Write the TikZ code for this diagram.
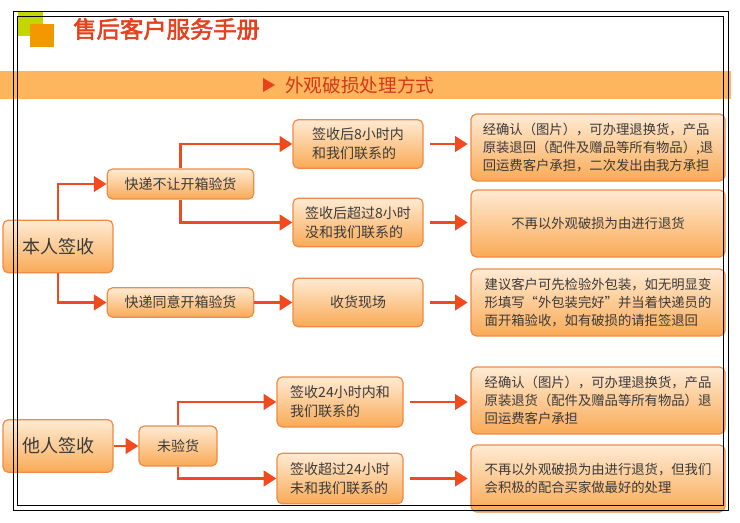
\documentclass[tikz,border=0pt]{standalone}
\usepackage{fontspec}
\setmainfont{Noto Sans CJK SC}
\newfontfamily\titlefont[FakeBold=2.5]{Noto Sans CJK SC}
\usetikzlibrary{arrows.meta, calc}

\definecolor{hdred}{HTML}{E8401C}
\definecolor{bandor}{HTML}{FDB55E}
\definecolor{arrred}{HTML}{F04A1E}
\definecolor{boxtop}{HTML}{FFEBD4}
\definecolor{boxbot}{HTML}{F9AA55}
\definecolor{boxline}{HTML}{F08A45}
\definecolor{txtgray}{HTML}{3A3A3A}
\definecolor{sqgreen}{HTML}{C3D600}
\definecolor{sqorange}{HTML}{F39800}

\tikzset{
  box/.style={draw=boxline, line width=0.9pt, rounded corners=4pt, top color=boxtop, bottom color=boxbot,
    text=txtgray, inner sep=0pt, align=left, font=\fontsize{10.5}{14}\selectfont},
  bigbox/.style={box, minimum width=82.5pt, minimum height=39.5pt, font=\fontsize{13.5}{16}\selectfont},
  midbox/.style={box, minimum width=97.5pt, minimum height=36.5pt},
  resbox/.style={box, minimum width=190.5pt, minimum height=50.25pt, font=\fontsize{10}{13.5}\selectfont},
  arr/.style={draw=arrred, line width=2.2pt, -{Triangle[length=9.5pt,width=11.5pt]}},
}

\begin{document}
\begin{tikzpicture}[x=0.75pt, y=-0.75pt]
    \useasboundingbox (0,0) rectangle (740,523);

    % heading
    \fill[sqgreen] (18,12) rectangle (43,36);
    \fill[sqorange] (30,24) rectangle (54,47);
    \node[anchor=west, inner sep=0pt, text=hdred, font=\fontsize{17.5}{20}\selectfont\titlefont] (title) at (73,29) {售后客户服务手册};
    \fill[bandor] (0,71) rectangle (731,99);
    \fill[hdred] (263,78) -- (275,85) -- (263,92) -- cycle;
    \node[anchor=west, inner sep=0pt, text=hdred!90!black, font=\fontsize{14}{16}\selectfont] (band) at (285,85) {外观破损处理方式};

    % boxes
    \node[bigbox] (self) at (58,246.5) {本人签收};
    \node[bigbox] (other) at (58,446) {他人签收};
    \node[box, minimum width=110pt, minimum height=22.5pt] (nolet) at (180.5,184) {快递不让开箱验货};
    \node[box, minimum width=110pt, minimum height=22pt] (letopen) at (180.5,302.5) {快递同意开箱验货};
    \node[box, minimum width=58.5pt, minimum height=30pt] (unchk) at (178,446) {未验货};

    \node[midbox] (in8) at (358,144) {签收后8小时内\\和我们联系的};
    \node[midbox] (over8) at (358,222.5) {签收后超过8小时\\没和我们联系的};
    \node[midbox, align=center] (onsite) at (358,302.5) {收货现场};
    \node[box, minimum width=94.5pt, minimum height=37.5pt] (in24) at (340,402) {签收24小时内和\\我们联系的};
    \node[box, minimum width=94.5pt, minimum height=38pt] (over24) at (340,478.5) {签收超过24小时\\未和我们联系的};

    \node[resbox] (res1) at (598,147.5) {经确认（图片），可办理退换货，产品\\原装退回（配件及赠品等所有物品）,退\\回运费客户承担，二次发出由我方承担};
    \node[resbox, align=center] (res2) at (598,223.5) {不再以外观破损为由进行退货};
    \node[resbox] (res3) at (598,302.5) {建议客户可先检验外包装，如无明显变\\形填写“外包装完好”并当着快递员的\\面开箱验收，如有破损的请拒签退回};
    \node[resbox] (res4) at (598,400.5) {经确认（图片），可办理退换货，产品\\原装退货（配件及赠品等所有物品）退\\回运费客户承担};
    \node[resbox] (res5) at (598,478.5) {不再以外观破损为由进行退货，但我们\\会积极的配合买家做最好的处理};

    % connectors
    \draw[arr] (self.north) |- (nolet.west);
    \draw[arr] (self.south) |- (letopen.west);
    \draw[arr] (nolet.north) |- (in8.west);
    \draw[arr] (nolet.south) |- (over8.west);
    \draw[arr] (letopen.east) -- (onsite.west);
    \draw[arr] (other.east) -- (unchk.west);
    \draw[arr] (unchk.north) |- (in24.west);
    \draw[arr] (unchk.south) |- (over24.west);
    \foreach \a/\b in {in8/res1, over8/res2, onsite/res3, in24/res4, over24/res5}
        \draw[arr, shorten <=5pt, shorten >=2pt] (\a.east) -- (\a.east -| \b.west);

    % frame
    \draw[line width=0.6pt] (13,11) rectangle (728,510);
    \draw[line width=0.6pt] (17,16) rectangle (723,505);
\end{tikzpicture}
\end{document}
